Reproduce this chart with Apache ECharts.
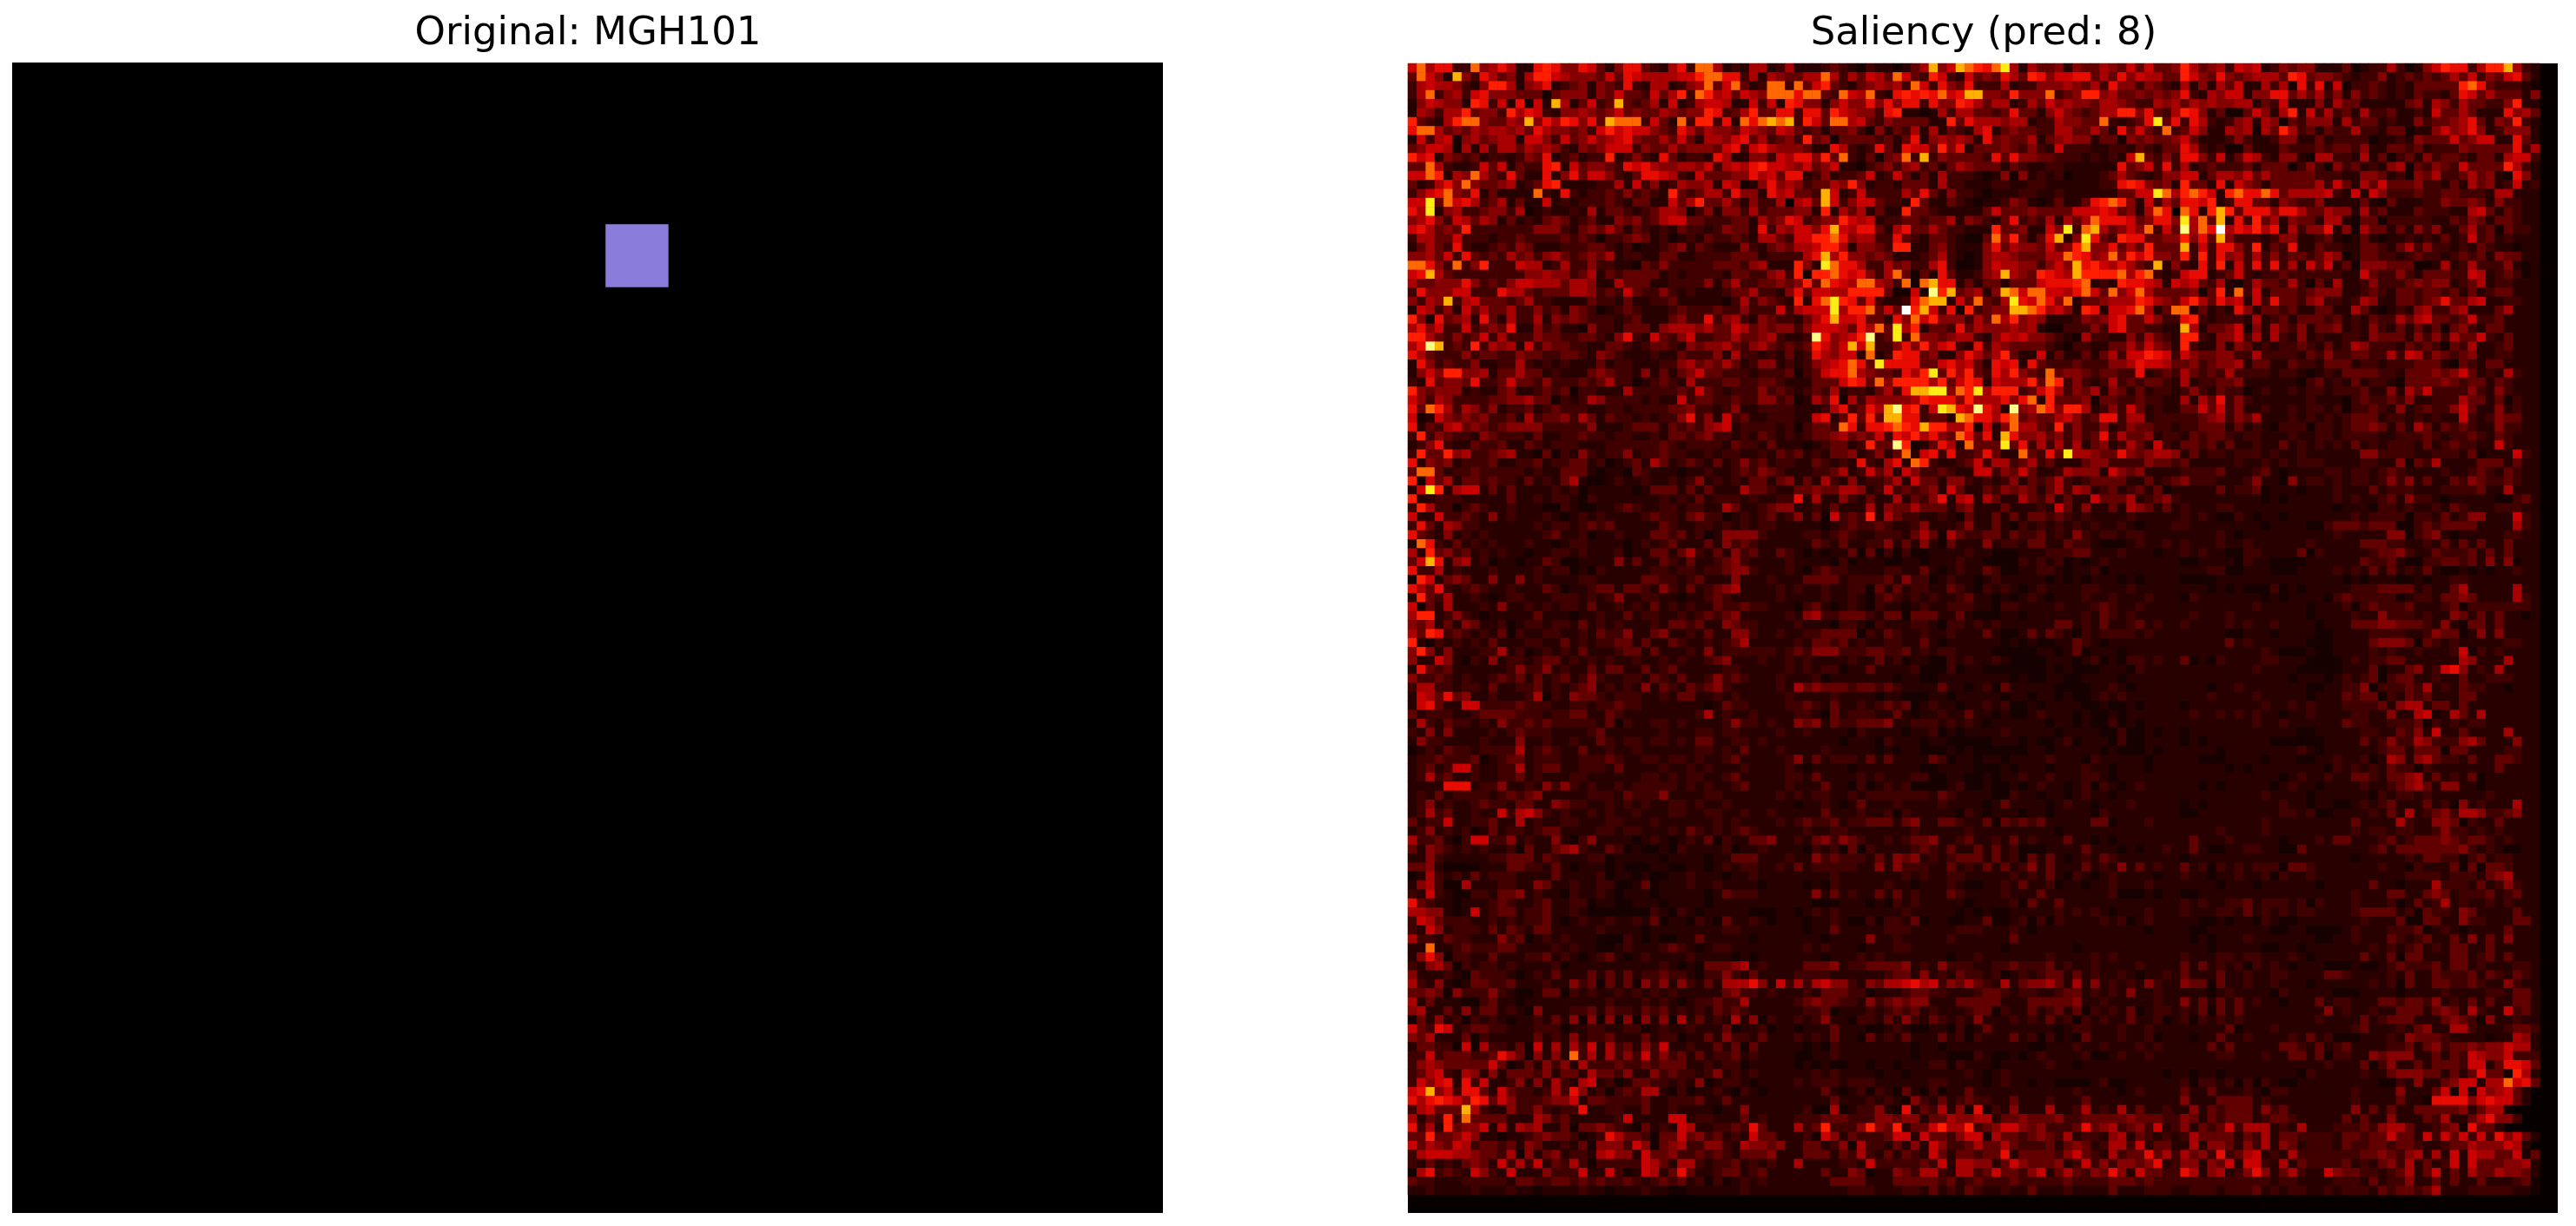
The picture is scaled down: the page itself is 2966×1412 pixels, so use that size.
<!DOCTYPE html>
<html><head><meta charset="utf-8">
<style>html,body{margin:0;padding:0;background:#fff}#c{width:2966px;height:1412px}</style>
<script src="https://cdn.jsdelivr.net/npm/echarts@6/dist/echarts.min.js"></script>
</head><body><div id="c"></div>
<script>
// Panel titles
const titles = ["Original: MGH101", "Saliency (pred: 8)"];
// Both images are 128 x 128 cells
const imageCells = 128;
// Left panel: image rectangles as [xStart, xEnd, yStart, yEnd, colour] in image cells
const originalRects = [[66, 73, 18, 25, "#8a7cda"]];
// Right panel: each character is one cell, read by eye, as an index into saliencyLevels
const saliencyLevels = [0.02,0.05,0.09,0.14,0.19,0.24,0.29,0.35,0.41,0.52,0.63,0.74,0.88,1];
const hotStops = ["#0a0000","#460000","#8c0000","#d10000","#ff1700","#ff5a00","#ff9d00","#ffe000","#ffff36","#ffff9b","#ffffff"];
const topLeft = [
"6957722945751178744763147732157299512155125312",
"3964 1a42753415886544436376555566899772515431".replace(/ /g,""),
"2565542148851457123414327215512459369312992",
"2592452674443330344414363326358298563654999",
"1465441872617061a513623a32351612566511626187",
"1542558344285762144543463433543448723583377",
"8321589943354a47587473a99926319288271979a9a2",
"7995343545545375443426867664327535443654365",
"1625604534551664263464567433536315546735234",
"3466505152553545421434666243353444367267544",
"8671432312212437123122812421731221751144265",
"3395211263613227816344327675445546256578665",
"6698154953273117147366421377652163334475637",
"3125749433451237811112251624125445165014745",
"2467943713111192172122324232183235527441756",
"66b396752351311612122232133116358335314225",
"75b1452234425012112151332123554024144252333",
"4574265354131213431231143423566332223315347",
"6753438222222244421343531321213221243317254",
"2553362221223222232320223431201213223215532",
"1353272112324311122233212011234132111421343",
"4453627323253424532343512211331122223331222",
"9974292482226551252242211032422222333245111",
"67a5322222222445442351323333121222213322452",
"5334447423246655535541153331122224135223343",
"2744466222755323335542326322421211123352214",
"4254a25633323522111132213112231111102524321",
"1652416353352242314320123211123222322422262",
"8407345173152251434322212311134227245214322",
"5746226234371142311042213331455545336534344",
"88532423625222433223321472163246223353345214",
"57ca232825451624332211332123321434453245323",
"7532224233224332233214321112113222415221213",
"1742322411225212121113122111224534353124412",
"1464884451335331211134322141313463322212223",
"2173443722363324222323522012321522233223321",
"8434441211341123230221115222223263212224232",
"6425422223344533021254222212116233223224423",
"7398525424122312322211221222233422124112222",
"6016434342231523342531322121224724162311222",
"7132563432344442222241112333132324561222212",
"2824322143222131122322122112133234221213212",
"1247211322311321222111222222321222213221311"];
const topMiddle = [
"111232102110135a46a9879b5153341433543636334",
"3559525365396328621634375387466773537465533",
"9368321345452962743722251224445435274424321",
"7993296592178787967aa44384449234884533434342",
"7441464474747727448753551253645443554322545",
"2773865442 7811015255332373314643235588473254".replace(/ /g,""),
"2863995632433331183755545512254433921237b3731",
"3231334204132515132157134332255335317363292213",
"2834033332313714545417343351345441330434334345",
"4311752127317663847133343242162221122132133125",
"7748392130349 2a243333273744332221 2 1 2 1 6 a 3 2 4 2 3 2".replace(/ /g,""),
"4634611023424523135433313211221 1 1 1 1 1 7 3 4 6 2 7 2 2 2".replace(/ /g,""),
"7124122361263131522210140412120111 2 3 5 3 2 1 2 4 4 2".replace(/ /g,""),
"423354841221333152211122112211111 1 2 2 7 8 7 4 3 4 1 8 4".replace(/ /g,""),
"332a6126222253731422101112 2 1 1 2 1 1 1 1 1 1 3 3 6 6 b 9 5 5 6 7 6".replace(/ /g,""),
"563a62466322 1 8 3 1 1 3 2 1 0 1 1 2 4 3 1 0 1 3 1 1 3 7 8 9 8 4 1 6 2 5 3".replace(/ /g,""),
"4418 153513 1 1 8 3 3 2 1 1 1 1 1 3 6 3 3 3 4 3 3 3 3 6 6 6 7 6 3 4 1 5 9 7".replace(/ /g,""),
"62 3 4 4 8 6 5 6 1 2 2 3 3 2 3 3 5 1 4 3 2 1 3 7 2 3 2 5 1 5 3 5 9 7 7 7 6 3 4 7 7 4".replace(/ /g,""),
"6 6 4 7 a 6 5 7 7 3 1 5 7 3 3 5 3 2 2 1 1 1 8 3 3 4 1 1 6 4 b 2 9 a 5 3 4 6 4 9 2 6 3".replace(/ /g,""),
"6 6 8 8 9 7 4 5 5 2 2 7 3 2 1 3 3 2 1 0 0 3 9 4 8 3 1 3 7 a 1 4 b 7 3 2 8 7 7 3 3 4 4".replace(/ /g,""),
"5 5 6 8 8 5 1 4 4 3 2 8 8 1 1 3 4 2 1 1 1 4 7 3 5 4 4 3 6 3 4 8 a 4 4 7 3 5 3 8 3 3 3".replace(/ /g,""),
"2 5 7 a 5 8 4 4 3 4 3 1 1 1 2 3 5 2 1 0 1 4 5 5 4 3 3 3 5 5 9 8 7 4 5 9 4 8 6 8 4 4 3".replace(/ /g,""),
"8 4 1 b 9 7 7 5 2 2 5 3 4 2 2 5 7 2 0 0 1 4 6 5 5 4 4 2 4 6 4 a 7 8 6 5 7 5 3 2 a 1 4".replace(/ /g,""),
"8 0 8 8 9 7 6 7 4 2 5 9 3 0 3 1 7 3 1 1 2 4 5 a 5 4 3 8 7 6 5 a 8 8 8 8 9 5 8 9 2 1 2".replace(/ /g,""),
"4 8 3 9 7 6 5 9 9 5 4 2 9 0 9 a 7 7 1 3 1 3 3 1 3 3 3 6 7 7 7 8 9 1 2 1 8 7 7 6 5 1 6".replace(/ /g,""),
"7 3 6 6 5 5 8 8 8 8 3 0 0 6 0 c 8 a 3 4 5 1 4 a 9 6 9 9 6 6 5 7 9 6 3 9 4 6 9 5 3 3 3".replace(/ /g,""),
"8 1 7 9 b 8 7 3 7 2 1 1 2 7 9 a a 1 6 3 9 3 2 5 b 7 6 9 7 4 9 1 3 3 4 5 5 5 8 7 5 4 3".replace(/ /g,""),
"5 6 6 6 b 5 8 8 9 3 6 3 d 8 a 6 2 7 0 8 2 3 4 4 a a 9 8 5 6 4 1 8 7 1 6 6 7 9 5 1 3 9".replace(/ /g,""),
"1 3 5 7 a 6 6 7 3 3 1 7 4 9 6 8 4 4 4 2 5 3 9 5 8 4 5 4 1 1 1 2 4 3 4 6 7 3 3 6 4 2 2".replace(/ /g,""),
"2 4 6 6 6 5 3 7 5 9 3 b 5 8 1 3 3 2 7 3 5 4 4 4 5 4 5 1 0 0 2 2 2 4 2 6 7 3 3 2 2 1 1".replace(/ /g,""),
"1 2 c 7 4 5 6 8 c 2 3 b 2 9 4 4 3 4 5 5 2 1 4 6 5 6 4 4 3 2 1 0 5 2 2 1 1 4 2 5 3 2 1".replace(/ /g,""),
"2 3 8 6 4 6 a 6 a 2 2 4 7 4 8 4 6 7 2 1 7 2 5 4 3 3 3 3 2 1 0 2 2 1 1 3 3 5 3 6 4 3 1".replace(/ /g,""),
"1 2 7 5 4 6 6 1 9 1 2 8 7 7 3 4 1 1 4 7 5 3 5 8 3 1 1 6 1 3 1 1 3 1 3 5 2 6 6 8 7 6 2".replace(/ /g,""),
"1 2 4 5 6 7 9 7 3 b 7 7 7 7 3 3 6 7 5 6 3 1 7 6 7 1 7 3 2 2 2 3 2 2 2 4 4 5 7 6 6 5 3".replace(/ /g,""),
"0 2 3 6 7 7 9 5 4 3 3 2 7 5 8 b 3 8 5 8 3 2 7 5 8 4 3 2 9 3 4 4 3 2 3 3 2 2 7 1 2 3 2".replace(/ /g,""),
"1 1 3 3 3 6 8 7 3 9 4 8 8 8 8 5 8 3 6 8 7 1 6 5 5 5 8 3 9 8 2 4 2 1 2 5 2 3 2 3 3 2 1".replace(/ /g,""),
"1 2 3 2 5 1 2 2 1 3 5 2 7 a a b b 4 9 8 b 5 8 8 8 2 3 6 8 5 2 4 3 5 1 4 3 1 3 1 2 2 1".replace(/ /g,""),
"0 1 5 3 7 0 5 2 5 4 4 4 4 5 8 7 7 7 4 8 5 5 5 7 4 7 9 1 8 3 3 3 4 0 3 3 2 2 3 2 2 1 1".replace(/ /g,""),
"1 1 1 2 5 7 2 3 7 5 a c 7 8 2 6 b a 7 6 c 7 5 1 c 4 5 9 8 4 8 8 5 1 2 4 2 6 3 1 2 1 1".replace(/ /g,""),
"1 1 6 7 1 3 8 3 8 3 a a 7 7 2 3 3 1 a 9 7 7 5 8 9 3 4 3 3 5 6 4 2 3 7 7 2 5 5 1 2 2 2".replace(/ /g,""),
"0 2 3 3 2 9 7 2 7 7 8 9 8 7 a 8 8 5 5 8 0 6 1 4 9 5 5 3 2 8 2 4 2 2 4 1 2 4 3 3 2 2 1".replace(/ /g,""),
"1 2 3 3 4 5 3 4 3 6 2 7 6 8 5 7 4 3 9 7 3 7 1 a 7 4 4 5 3 4 2 4 2 3 7 2 5 3 3 4 1 2 2".replace(/ /g,""),
"1 0 1 2 3 3 1 2 8 3 3 c 8 0 1 3 7 5 1 9 3 3 3 b 3 7 2 5 2 5 2 5 1 3 4 1 2 5 3 1 6 2 1".replace(/ /g,"")];
const topRight = [
"8 5 3 4 5 2 6 5 6 1 2 4 3 4 4 1 1 1 3 0 1 2 2 5 2 0 1 4 6 8 7 7 2 5 8 8 a 5 2 1 3".replace(/ /g,""),
"8 6 4 3 7 4 3 4 5 5 5 3 8 7 3 4 4 3 2 1 2 2 4 1 2 3 2 3 2 3 5 3 6 2 4 3 6 7 3 1 1".replace(/ /g,""),
"5 1 4 1 5 3 6 1 1 5 2 5 0 7 2 7 1 6 0 2 2 3 2 1 2 1 3 3 3 3 3 8 9 7 3 2 2 2 1 0 1".replace(/ /g,""),
"7 2 1 5 4 6 6 1 4 4 7 7 3 5 3 5 2 4 1 4 2 3 2 1 2 1 3 2 2 1 3 7 6 3 5 3 3 3 1 4 1".replace(/ /g,""),
"3 5 4 5 4 4 5 5 1 3 2 6 1 1 1 4 1 5 3 3 1 1 1 1 1 3 4 1 5 4 2 5 3 3 2 2 4 8 1 1 1".replace(/ /g,""),
"8 7 4 1 3 0 0 3 6 4 1 5 8 1 6 2 5 2 3 1 5 2 2 3 1 1 2 1 6 3 3 5 3 1 1 1 7 4 5 3 1".replace(/ /g,""),
"2 7 5 2 1 2 4 5 1 5 4 0 3 2 4 4 4 1 5 2 3 3 1 2 1 1 4 2 3 3 4 5 7 3 1 4 3 8 2 1 1".replace(/ /g,""),
"3 6 4 1 1 5 4 5 0 5 3 8 5 2 3 1 3 2 2 5 2 2 1 3 3 0 1 1 4 6 4 5 7 4 1 2 4 4 4 1 1".replace(/ /g,""),
"6 3 1 1 1 2 4 2 1 1 2 4 4 1 1 3 1 2 2 2 2 0 1 1 2 1 4 3 3 3 6 3 4 6 6 1 1 7 3 1 1".replace(/ /g,""),
"7 5 2 1 2 0 0 3 1 1 1 3 2 2 2 3 2 3 3 2 4 1 1 3 3 2 3 1 2 2 2 4 3 3 3 3 3 7 2 5 1".replace(/ /g,""),
"7 7 4 2 6 1 3 6 5 2 1 4 4 1 0 5 5 2 2 1 5 1 3 0 2 3 1 4 2 3 3 2 1 3 3 1 5 6 6 2 1".replace(/ /g,""),
"5 1 2 3 2 2 2 3 1 3 3 3 0 2 4 2 0 4 2 3 1 2 1 4 5 0 3 2 4 3 2 6 3 3 3 3 8 5 2 1 1".replace(/ /g,""),
"6 6 1 3 5 5 4 6 3 5 3 3 3 3 3 2 2 2 1 1 4 4 3 1 2 0 4 3 5 2 2 3 5 3 4 1 0 7 4 1 1".replace(/ /g,""),
"8 3 3 1 7 1 6 4 3 1 3 3 3 3 3 5 2 6 3 1 5 3 6 3 3 3 4 2 2 1 3 1 5 3 4 1 2 6 1 2 1".replace(/ /g,""),
"8 9 8 6 1 8 9 7 7 9 7 3 5 5 5 5 6 2 1 6 1 6 4 2 2 2 3 2 2 3 3 2 2 2 1 5 5 1 1 1 1".replace(/ /g,""),
"7 7 6 8 1 2 7 7 3 3 1 4 3 2 2 4 1 1 1 1 3 1 0 3 1 1 1 2 2 4 3 3 4 3 1 4 2 2 1 1 1".replace(/ /g,""),
"9 7 1 8 a 8 3 7 7 7 4 7 7 5 3 3 5 4 4 1 5 2 3 1 1 1 3 2 2 2 1 1 5 6 3 1 3 2 1 1 1".replace(/ /g,""),
"b 5 9 3 a 1 7 2 8 3 5 1 4 3 3 1 5 5 1 0 3 3 0 2 2 2 2 2 1 1 3 2 4 3 1 3 3 2 1 1 1".replace(/ /g,""),
"c 5 9 7 d 5 7 6 8 5 7 1 5 2 4 4 7 1 4 0 5 3 3 1 3 1 4 2 4 1 1 3 5 2 3 0 3 2 2 1 1".replace(/ /g,""),
"8 4 7 3 a 4 2 2 2 1 2 4 4 1 1 2 3 1 0 1 3 1 0 1 1 2 1 2 1 3 1 2 6 2 3 1 2 1 1 1 1".replace(/ /g,""),
"a 2 6 2 7 7 4 2 8 1 3 2 7 1 1 3 2 2 1 1 3 3 2 1 3 5 2 4 2 2 1 2 1 3 2 1 1 0 1 1 1".replace(/ /g,""),
"8 2 8 2 7 4 5 2 5 2 4 2 3 3 2 3 5 4 0 1 3 3 2 2 1 2 3 2 2 1 2 3 2 3 1 4 3 3 1 1 1".replace(/ /g,""),
"2 1 7 2 8 1 6 2 7 2 7 2 5 1 6 3 6 1 3 0 4 4 4 3 3 3 0 0 1 5 1 2 5 2 2 2 4 1 0 1 1".replace(/ /g,""),
"6 7 7 1 2 3 6 2 1 2 2 3 2 2 2 2 2 2 1 1 6 3 2 2 4 2 1 3 3 3 2 2 6 5 1 2 3 2 0 1 1".replace(/ /g,""),
"5 6 3 2 5 1 0 2 5 3 3 2 5 2 0 3 1 5 1 1 2 4 2 2 2 3 4 3 4 4 1 2 3 5 1 2 2 1 1 1 1".replace(/ /g,""),
"3 4 0 3 8 1 9 2 6 1 3 3 3 2 3 4 4 4 1 1 2 3 2 1 3 3 2 3 3 2 3 1 3 1 2 3 3 1 1 1 1".replace(/ /g,""),
"6 8 5 3 7 5 6 1 6 2 7 3 3 2 4 5 2 2 1 2 5 4 1 1 3 3 2 3 4 7 3 3 5 6 1 1 2 2 1 1 1".replace(/ /g,""),
"9 1 3 1 2 1 7 4 1 3 3 2 3 1 1 3 3 1 1 5 3 1 0 1 2 1 4 5 2 2 4 5 1 1 1 3 5 1 1 1 1".replace(/ /g,""),
"7 8 2 1 2 2 2 1 5 1 2 3 1 3 3 3 2 3 1 2 1 3 2 2 5 3 5 6 3 3 2 3 6 2 2 3 1 1 1 1 1".replace(/ /g,""),
"a 5 1 3 3 4 6 0 4 1 5 3 2 4 1 3 3 4 1 2 1 4 2 1 3 1 3 1 3 0 3 4 2 1 3 3 1 1 1 1 1".replace(/ /g,""),
"8 8 2 1 4 4 6 2 5 1 5 2 1 4 1 2 1 1 2 2 1 4 3 3 3 1 4 2 4 2 5 3 3 6 2 1 3 1 1 1 1".replace(/ /g,""),
"8 2 1 1 4 1 4 3 1 2 1 2 2 3 2 1 3 1 2 5 4 2 2 2 1 3 2 3 2 0 3 2 5 1 1 2 3 1 1 1 1".replace(/ /g,""),
"6 4 3 3 4 4 2 2 5 2 2 2 2 1 3 2 4 2 2 3 3 2 2 5 2 6 5 2 4 3 2 3 4 1 1 2 2 1 1 1 1".replace(/ /g,""),
"3 4 2 3 4 4 5 1 3 3 1 1 3 2 2 1 3 3 3 1 2 2 1 2 2 2 3 3 3 1 0 3 2 1 3 3 1 1 1 1 1".replace(/ /g,""),
"5 3 2 3 2 5 2 2 2 2 1 2 2 1 0 1 2 1 3 3 3 3 2 2 1 3 3 3 4 3 4 6 3 1 2 1 5 2 1 1 1".replace(/ /g,""),
"5 1 2 2 3 3 4 1 1 1 1 1 1 0 2 3 1 2 1 3 1 2 2 1 0 3 3 3 3 4 3 2 3 3 1 3 2 1 1 1 1".replace(/ /g,""),
"2 4 2 1 3 2 2 0 1 2 1 1 2 1 2 2 1 2 2 2 3 1 1 4 1 5 3 6 2 2 2 2 4 2 1 4 2 1 1 1 1".replace(/ /g,""),
"5 1 5 3 7 2 4 2 1 1 1 1 1 1 2 1 1 1 0 2 3 2 2 3 2 4 1 1 2 2 2 5 3 3 1 3 0 2 1 1 1".replace(/ /g,""),
"3 3 6 3 6 2 4 1 1 2 1 1 2 1 2 2 1 2 0 2 2 3 2 1 4 1 2 3 2 2 4 6 3 1 1 4 1 2 1 1 1".replace(/ /g,""),
"2 2 3 4 5 2 4 3 5 1 1 1 2 1 2 1 2 1 2 3 3 3 1 2 2 1 2 1 2 1 1 6 2 1 2 4 3 3 1 1 1".replace(/ /g,""),
"2 2 3 3 3 1 3 1 2 1 0 2 2 2 0 2 2 1 2 3 3 4 3 1 3 1 5 3 1 3 2 3 2 1 1 4 2 2 1 1 1".replace(/ /g,""),
"1 3 2 3 3 2 1 2 2 1 1 1 2 1 1 2 2 1 2 2 2 2 1 1 2 2 2 3 2 1 2 2 3 2 1 3 2 1 1 1 1".replace(/ /g,""),
"3 3 2 3 1 3 1 1 2 1 1 3 1 2 1 2 1 2 1 3 1 2 1 2 2 2 1 3 1 2 3 2 2 1 1 6 2 1 1 1 1".replace(/ /g,"")];
const middleLeft = [
"2833845223451103021421224122322112122112132312",
"7143412223112231223312012315312321312423122311",
"3993122322222121133310110321110112112324321111",
"8063513323221312135100121121121241212133134222",
"16b8156613131111212011111013331313111533211511",
"8112221111131121221021111111212131222121122211",
"2852202321121110021001123211221221153112344211",
"6116223214121112101212111123221342201212312111",
"2731542211111121221232311111321122121212211122",
"7321412121111112311201121113323120144442111211",
"1972131212111211012211110121231113142321111211",
"5183423121211011221211120113313521314231132111",
"36a7145120110113200111141311321311234211112211",
"7225121112111121220102111112212212234421112111",
"0861343114114121111221111133221231114111211111",
"7537212321121113201123313321421312345111121111",
"1832511210122111222121241122110112321111121111",
"6031511121411212122131121213121211322322111111",
"5881242101111131110112113122112123234111112111",
"4351314311201221221312121112133231143221111211",
"5387232121302112211213224113411213114421121111",
"8102121213111221131212233131132112123511111111",
"4841411122512012121311123313111214122222212111",
"4116410214122123312121211211212112341112112111",
"1732311111124224121131331131231111122111112111",
"4223212112323131231242112213213112423211121111",
"2552212213112231212341212141321323421111121111",
"1653734112111250214332122211213311212111112111",
"1673116622223222112212232211111110132211112111",
"3122211233332221223311321111111125121121111111",
"1521322121422323222221302112212111124221211111",
"2141411112123222111123111111211122122111121111",
"1422111121114112112113212212212133112212111211",
"0121322122225123211311211211111122121311121111",
"1223222301233122211222321122122121123111112111",
"1231266211225123311222131111211212111211112111",
"1252311211223121112211111122121221123111112111",
"1111777122411214242121121222221212112311112111",
"1213122221232341111122213222411112211111121111",
"1241211232213311432211212121122121121111111111",
"1252311211 6256 4212 1 1 2 1 2 1 1 2 1 1 1 2 2 1 1".replace(/ /g,"") + "2211211211",
"3122611223115121122111221112111111212111121111",
"1241212013122123311112212211121321212321111111"];
const middleMiddle = [
"3121334124139 167 2 7 2 2 3 7 3 1 1 9 3 2 7 3 b 5 5 4 3 3 7 4 3 4 5 5 4 4".replace(/ /g,""),
"11321217215719 8 2 1 1 2 3 6 2 5 5 2 3 5 2 3 1 1 1 3 4 4 2 2 2 2 4 3 3 2".replace(/ /g,""),
"1122351263516 4 2 2 3 2 1 1 6 6 2 4 3 6 3 1 1 2 5 4 4 4 1 6 4 3 4 1 1 1 1".replace(/ /g,""),
"1315214122351 6 3 3 1 4 4 2 1 2 1 2 4 1 3 2 3 5 2 1 2 3 3 3 3 1 1 3 1 2 3".replace(/ /g,""),
"33433 5 5 4 1 2 6 2 3 2 3 4 1 6 3 1 1 3 2 4 3 4 3 1 3 5 2 5 4 1 2 3 1 2 3 1 3 0 1 1".replace(/ /g,""),
"7 1 5 1 1 4 2 1 3 1 1 5 1 3 2 4 7 1 5 6 1 5 3 1 1 5 3 2 4 1 3 1 1 6 3 3 3 5 1 2 3 4 2 3".replace(/ /g,""),
"1 1 2 1 3 1 1 1 5 1 4 3 3 5 3 3 3 1 3 4 1 1 1 3 1 1 1 2 1 6 3 1 4 1 1 3 1 5 4 3 1 3 1 1".replace(/ /g,""),
"4 1 3 0 6 2 3 2 8 1 5 3 2 2 1 1 2 1 0 3 1 1 3 1 3 1 3 3 2 3 2 1 2 1 1 1 1 2 1 1 1 1 1 1".replace(/ /g,""),
"1 1 1 0 1 2 3 2 2 3 2 1 1 2 4 1 1 1 2 4 1 1 3 1 0 2 1 2 1 2 1 2 1 2 1 1 2 1 0 1 1 1 2 1".replace(/ /g,""),
"1 2 2 1 2 3 2 1 1 2 2 2 1 3 5 3 0 5 3 2 2 3 3 1 3 2 2 3 1 2 1 4 2 1 2 2 1 2 2 1 1 1 1 1".replace(/ /g,""),
"1 1 3 2 1 3 1 1 2 2 4 1 3 1 4 1 0 3 1 1 1 4 1 2 2 1 3 3 1 1 3 2 2 1 0 0 0 1 2 1 1 2 1 1".replace(/ /g,""),
"1 0 1 0 1 1 3 0 3 0 2 0 2 0 0 1 1 1 1 2 1 1 0 0 0 1 1 1 2 2 2 3 3 1 1 1 2 1 1 1 0 1 1 1".replace(/ /g,""),
"1 1 1 1 0 2 0 1 1 1 0 0 1 1 0 1 1 1 2 1 1 0 0 0 0 2 1 2 1 2 0 1 0 1 2 1 1 1 1 1 1 1 1 1".replace(/ /g,""),
"1 0 2 3 2 2 1 1 1 1 2 2 1 1 3 1 0 1 2 1 1 3 2 0 0 1 1 2 2 1 0 1 1 2 0 1 1 1 1 1 1 1 1 1".replace(/ /g,""),
"1 3 3 3 3 1 2 2 2 2 3 1 4 2 2 0 1 2 1 1 0 1 2 1 1 1 1 1 0 1 0 1 0 1 1 1 0 1 0 1 1 1 1 1".replace(/ /g,""),
"2 1 1 2 1 1 2 2 0 3 1 3 1 2 2 1 1 3 2 1 0 2 1 2 1 0 1 2 1 1 1 1 2 2 1 1 1 2 1 1 1 1 1 1".replace(/ /g,""),
"1 1 1 2 1 1 2 1 0 2 3 2 1 2 1 2 1 1 2 3 1 1 0 1 0 1 2 1 0 1 1 1 2 1 1 2 1 1 1 2 1 1 1 1".replace(/ /g,""),
"0 2 3 1 0 1 2 1 0 2 1 1 0 1 2 1 1 2 2 2 1 1 0 2 2 1 1 1 1 2 1 1 1 2 3 2 1 1 2 1 1 1 1 1".replace(/ /g,""),
"1 4 5 2 2 3 3 3 2 1 3 3 0 3 3 3 1 1 3 1 0 0 0 1 1 0 1 1 1 1 1 1 2 1 3 2 1 2 1 1 1 1 1 1".replace(/ /g,""),
"2 1 1 1 0 2 2 1 0 2 1 1 1 2 2 1 0 2 2 1 2 1 2 1 1 1 1 1 1 3 3 1 2 1 3 1 1 2 3 1 2 1 1 1".replace(/ /g,""),
"1 2 2 3 3 3 3 0 2 1 3 2 1 1 2 1 1 2 1 1 1 3 1 0 0 1 3 1 3 2 1 0 2 1 2 2 2 2 1 2 1 1 1 1".replace(/ /g,""),
"2 1 3 3 2 3 1 2 1 1 2 2 1 1 3 1 0 1 1 1 1 1 1 0 1 0 1 0 0 1 1 3 2 1 0 1 1 1 1 1 1 1 1 1".replace(/ /g,""),
"3 2 4 4 4 2 2 2 3 3 2 2 3 1 2 1 2 2 1 1 1 1 0 0 0 0 0 1 1 0 1 3 0 1 1 1 0 1 1 1 1 1 1 1".replace(/ /g,""),
"1 2 1 1 1 1 2 1 1 3 1 2 0 1 1 0 0 2 1 2 1 1 2 1 0 0 0 0 1 1 1 0 1 2 0 1 0 2 2 1 2 1 1 1".replace(/ /g,""),
"1 2 1 2 2 0 1 1 3 1 1 1 1 2 0 0 0 2 0 1 1 0 0 0 0 0 0 0 1 0 1 0 0 0 1 1 1 0 2 1 1 1 1 1".replace(/ /g,""),
"1 1 2 0 1 1 1 1 1 1 1 0 1 1 0 0 1 1 1 1 1 1 1 1 0 1 0 0 1 1 0 0 1 1 1 1 0 1 1 1 1 1 1 1".replace(/ /g,""),
"5 3 4 3 3 3 2 3 3 2 3 2 1 1 1 1 3 1 1 0 1 2 0 3 1 1 1 1 1 0 0 0 0 1 1 2 1 0 1 1 1 1 1 1".replace(/ /g,""),
"1 1 1 1 2 1 1 1 1 0 1 1 0 0 0 1 1 0 1 1 1 1 1 0 1 1 0 1 1 0 1 0 0 1 2 1 2 1 1 1 1 1 1 1".replace(/ /g,""),
"2 3 2 1 3 1 1 2 1 2 3 2 3 0 1 2 1 1 0 1 1 2 1 2 0 0 1 0 1 1 1 1 0 0 1 0 0 1 0 1 1 1 1 1".replace(/ /g,""),
"2 2 1 0 3 1 2 2 2 1 1 3 1 0 1 1 2 1 1 3 1 1 0 1 0 0 1 2 1 1 1 0 1 0 0 1 0 1 1 1 1 1 1 1".replace(/ /g,""),
"4 3 4 1 3 2 2 3 3 3 4 1 1 2 2 2 1 2 1 2 1 0 1 1 1 1 1 1 0 1 1 0 1 0 0 2 0 1 0 1 1 1 1 1".replace(/ /g,""),
"1 2 1 1 1 1 0 2 1 1 1 1 0 1 1 2 0 1 0 1 1 1 1 2 1 1 1 1 1 0 1 1 1 1 0 0 2 0 0 1 0 1 1 1".replace(/ /g,""),
"1 1 1 1 1 0 1 1 1 0 2 1 1 1 0 1 1 0 0 0 0 0 1 1 1 0 1 0 0 1 2 0 1 1 1 0 2 0 0 1 1 1 1 1".replace(/ /g,""),
"1 1 1 2 1 1 1 1 1 0 1 0 1 1 0 0 0 1 0 1 0 0 0 0 0 0 1 1 0 1 1 1 1 1 0 1 0 0 0 1 0 1 1 1".replace(/ /g,""),
"4 1 3 1 2 2 2 1 3 1 3 1 1 1 1 3 2 0 1 1 0 1 1 0 1 1 1 1 2 1 1 1 0 2 1 1 1 1 1 0 1 1 1 1".replace(/ /g,""),
"1 0 1 1 1 1 0 1 1 1 1 1 1 1 0 0 1 1 1 1 0 0 0 1 0 1 1 1 0 1 1 1 2 1 1 0 1 1 1 0 1 1 1 1".replace(/ /g,""),
"2 1 3 1 1 1 1 2 1 2 1 1 1 2 2 0 0 1 1 0 0 1 0 1 1 2 1 1 2 1 1 1 2 2 1 0 1 1 1 1 1 1 1 1".replace(/ /g,""),
"1 1 1 3 1 1 0 2 0 1 2 1 2 0 0 0 0 1 2 0 0 1 0 0 1 0 1 2 1 1 0 1 2 0 2 1 0 1 2 1 1 1 1 1".replace(/ /g,""),
"2 1 2 2 1 1 2 1 2 2 2 2 2 2 2 1 3 2 1 1 1 1 0 0 2 1 1 0 1 1 0 1 2 1 1 0 1 1 1 1 1 1 1 1".replace(/ /g,""),
"0 1 1 2 1 0 1 3 1 1 1 2 1 1 1 1 2 1 1 1 1 0 1 3 1 1 1 1 0 1 2 1 1 0 1 1 1 2 1 1 1 1 1 1".replace(/ /g,""),
"1 1 1 3 1 1 1 2 1 1 2 0 2 1 1 1 1 1 0 2 1 0 1 1 1 0 1 1 0 1 1 1 1 0 2 1 1 1 1 1 1 1 1 1".replace(/ /g,""),
"2 3 2 2 3 1 2 2 3 3 3 1 3 4 1 1 3 3 2 1 1 3 0 3 2 3 2 3 1 1 1 1 1 3 3 0 1 1 1 2 1 1 1 1".replace(/ /g,""),
"1 2 1 1 2 2 1 1 1 1 1 1 1 2 1 1 1 1 1 2 1 1 1 1 1 1 1 1 1 0 1 1 1 1 1 1 1 1 1 1 1 1 1 1".replace(/ /g,"")];
const middleRight = [
"1 3 1 2 2 1 2 2 2 1 2 1 1 2 1 1 1 1 1 1 4 4 2 2 2 2 1 1 2 2 2 1 3 0 1 1 1 6 2 1".replace(/ /g,""),
"3 1 1 1 1 1 2 1 1 2 1 2 1 2 2 2 1 1 1 1 2 2 1 1 4 0 3 2 5 1 1 1 1 3 3 3 1 3 1 1".replace(/ /g,""),
"2 2 2 2 3 1 1 1 2 3 1 0 1 1 1 1 2 2 1 2 2 1 2 3 2 1 1 1 1 2 1 1 2 3 2 1 3 2 1 1".replace(/ /g,""),
"4 2 2 2 1 1 1 2 4 1 1 0 4 1 2 2 1 2 1 2 2 1 2 4 2 4 1 3 1 1 3 2 4 3 2 2 3 2 1 1".replace(/ /g,""),
"1 1 1 1 3 1 2 2 3 0 1 1 1 0 1 1 1 2 1 1 1 3 1 2 2 2 1 1 1 2 2 2 2 3 1 1 5 1 1 1".replace(/ /g,""),
"1 1 1 1 1 1 1 1 1 0 1 0 1 1 1 1 1 2 1 2 1 1 2 3 1 4 2 2 1 0 1 1 1 1 1 0 0 2 3 1".replace(/ /g,""),
"2 1 1 1 2 2 1 1 1 1 1 1 1 1 1 1 1 0 1 1 1 0 2 2 1 2 1 1 2 1 3 2 1 1 1 2 2 2 1 1".replace(/ /g,""),
"2 1 2 1 0 0 2 1 0 1 1 0 1 1 1 1 1 1 1 2 1 2 2 2 2 0 2 2 1 3 1 2 4 4 1 1 1 6 2 1".replace(/ /g,""),
"2 1 1 1 1 1 1 1 1 0 1 1 1 1 0 0 2 3 3 3 2 3 3 3 0 0 2 3 2 3 3 3 3 1 1 1 1 5 2 1".replace(/ /g,""),
"1 1 1 1 2 1 0 1 1 1 1 1 1 1 1 1 1 2 1 1 1 1 1 4 4 0 2 3 4 1 0 1 1 1 1 1 2 2 1 1".replace(/ /g,""),
"2 1 1 1 2 1 1 2 1 1 1 1 1 1 2 1 1 1 1 1 3 3 3 2 2 1 1 2 1 3 1 3 1 3 1 1 3 1 1 1".replace(/ /g,""),
"2 1 2 1 1 0 0 2 2 1 1 1 1 3 0 2 1 1 1 1 1 2 3 3 4 2 1 1 3 2 2 2 3 1 3 1 3 1 1 1".replace(/ /g,""),
"0 0 1 1 1 1 0 2 1 1 0 0 0 0 1 1 1 1 1 1 3 2 2 3 1 0 0 2 2 3 3 2 3 1 4 1 4 0 1 1".replace(/ /g,""),
"1 1 1 2 2 0 0 1 1 1 0 0 0 1 1 1 1 2 1 2 1 3 1 3 1 2 1 3 1 0 0 1 0 1 0 1 1 2 1 1".replace(/ /g,""),
"0 0 0 0 1 1 1 1 1 1 1 1 1 1 1 1 1 1 0 1 0 1 1 1 0 0 1 0 1 1 2 2 1 1 1 1 1 1 1 1".replace(/ /g,""),
"1 1 1 0 1 0 1 0 0 0 2 0 1 0 1 1 1 1 1 2 2 2 3 3 3 3 1 2 1 1 3 5 1 1 1 1 1 5 1 1".replace(/ /g,""),
"0 2 1 1 1 1 1 1 1 0 1 0 1 1 1 1 0 2 3 2 2 2 2 2 0 1 2 2 1 3 3 4 3 1 1 1 1 5 2 1".replace(/ /g,""),
"1 1 1 1 1 1 1 1 2 1 1 1 1 1 0 1 1 1 2 0 2 3 2 2 2 3 1 1 1 2 3 0 2 2 2 2 2 2 2 1".replace(/ /g,""),
"1 2 1 1 1 2 1 1 1 1 1 1 1 1 0 1 1 1 1 2 1 1 4 2 2 2 1 2 1 1 4 3 1 3 1 3 1 1 0 1".replace(/ /g,""),
"2 1 1 1 1 2 1 2 1 1 2 1 1 1 1 0 1 1 1 3 3 3 4 4 3 3 3 2 1 4 1 0 3 3 1 3 1 1 1 1".replace(/ /g,""),
"1 1 1 1 1 0 0 1 1 1 0 1 1 1 1 0 0 1 1 1 1 2 2 2 2 1 1 2 4 3 3 0 1 4 1 4 1 1 1 1".replace(/ /g,""),
"1 1 1 1 1 3 1 2 1 1 1 1 1 1 0 0 0 1 1 1 1 3 4 4 4 3 0 3 2 1 2 1 1 1 1 1 2 2 1 1".replace(/ /g,""),
"1 1 1 1 1 1 1 1 1 2 1 0 0 0 1 0 0 1 1 1 1 2 1 2 1 1 2 1 1 1 2 6 0 2 1 2 1 1 1 1".replace(/ /g,""),
"3 0 1 0 2 1 1 1 1 2 2 1 1 1 0 0 0 0 1 2 1 2 2 3 3 1 1 1 1 1 1 5 4 1 1 1 5 1 1 1".replace(/ /g,""),
"1 1 1 1 1 1 1 1 2 1 1 1 1 0 0 0 0 0 1 1 1 3 0 1 1 3 4 1 2 6 7 4 1 2 1 5 1 1 1 1".replace(/ /g,""),
"1 1 1 1 1 1 1 1 1 1 1 1 0 1 1 1 0 1 2 1 2 3 0 2 3 3 1 1 2 1 1 3 1 1 2 2 2 1 1 1".replace(/ /g,""),
"1 1 1 0 1 1 2 1 1 1 1 1 1 1 0 0 1 1 2 2 4 0 2 2 2 3 2 5 1 2 1 3 2 2 1 1 0 1 1 1".replace(/ /g,""),
"1 1 1 2 1 1 1 1 2 1 1 1 1 1 0 1 1 1 3 2 3 3 0 2 1 3 2 3 1 1 1 3 3 1 1 1 1 1 1 1".replace(/ /g,""),
"0 1 1 1 1 1 1 1 1 2 1 1 2 1 2 1 1 1 2 2 2 2 3 1 4 5 5 1 3 3 1 3 1 1 1 1 1 1 1 1".replace(/ /g,""),
"1 2 1 1 2 1 2 1 2 1 1 0 1 1 2 1 1 1 1 2 2 1 1 4 1 1 5 6 0 1 5 3 1 5 1 1 1 1 1 1".replace(/ /g,""),
"1 1 1 1 1 1 1 1 2 1 1 2 1 1 1 1 1 1 3 2 2 1 1 2 2 2 3 0 2 1 2 1 2 2 1 1 1 1 1 1".replace(/ /g,""),
"0 1 1 1 1 1 1 1 1 1 1 1 1 0 0 1 1 1 1 1 2 2 1 1 3 2 4 1 6 1 1 3 1 1 1 1 5 1 1 1".replace(/ /g,""),
"0 1 0 1 1 1 1 1 1 1 0 0 0 0 0 0 1 1 1 1 3 1 2 4 2 2 5 4 2 2 2 4 5 3 1 1 1 4 1 1".replace(/ /g,""),
"1 1 1 1 0 1 1 1 1 1 1 1 1 2 1 0 1 1 1 1 1 1 2 3 3 1 3 3 3 0 3 3 1 1 1 1 2 2 1 1".replace(/ /g,""),
"1 1 0 0 0 1 1 1 1 0 1 1 1 0 0 1 1 2 1 1 2 0 1 5 4 1 4 5 3 2 2 1 3 1 1 3 3 2 1 1".replace(/ /g,""),
"1 1 1 1 1 0 1 0 1 1 1 1 1 1 1 1 0 2 1 2 1 2 1 3 2 2 0 2 1 1 1 1 1 1 1 3 1 1 1 1".replace(/ /g,""),
"1 1 1 1 1 1 1 1 1 1 1 0 1 2 1 1 2 1 1 3 3 2 1 3 3 4 5 1 3 1 2 1 3 0 1 1 1 1 1 1".replace(/ /g,""),
"1 1 0 1 0 1 1 1 1 1 0 1 2 1 1 0 1 1 1 1 2 1 1 2 3 4 5 3 1 4 4 1 1 0 1 1 1 1 1 1".replace(/ /g,""),
"1 1 1 1 1 1 1 1 1 2 1 1 1 1 0 1 1 1 1 1 1 0 2 1 2 2 1 2 1 1 1 1 1 1 2 1 1 1 1 1".replace(/ /g,""),
"0 1 0 1 1 1 1 1 1 1 1 2 1 1 0 1 1 0 0 1 2 1 2 3 1 1 1 3 1 2 0 4 1 2 1 1 1 5 1 1".replace(/ /g,""),
"0 0 1 1 1 1 1 1 1 1 1 2 2 1 2 0 0 1 1 1 1 2 1 3 1 5 1 2 3 4 2 5 5 4 2 2 3 4 1 1".replace(/ /g,""),
"1 1 1 1 1 1 1 1 1 2 1 1 1 1 1 1 1 1 1 3 1 1 1 1 5 2 1 1 4 4 3 0 2 1 1 3 1 1 1 1".replace(/ /g,""),
"1 1 1 1 2 1 1 1 1 2 1 1 1 1 1 1 1 1 1 2 1 2 2 1 2 2 1 1 2 4 2 2 1 2 1 2 1 1 1 1".replace(/ /g,"")];
const bottomLeft = [
"5223102662241211410241111 0 1 2 1 0 1 2 1 3 0 2 1 1 3 3 4 1 1 1 0 1 1".replace(/ /g,""),
"3143212121120311 3 4 5 2 1 1 3 2 0 1 0 0 1 0 2 1 1 1 1 2 0 1 1 2 1 1 1 1".replace(/ /g,""),
"1142111112 2 3 3 3 1 3 2 1 1 1 2 2 0 1 1 1 1 1 0 1 1 1 1 0 1 1 3 3 3 1 1 1 2".replace(/ /g,""),
"3 3 4 1 0 0 0 0 1 1 1 3 3 2 2 1 3 1 0 1 1 1 0 1 0 0 0 1 1 0 0 1 1 0 1 2 1 2 2 1 1 2 1 1".replace(/ /g,""),
"0 1 5 2 1 2 1 3 1 2 2 2 1 1 1 1 3 1 1 1 1 2 0 1 1 0 1 0 0 1 1 2 1 1 1 0 1 1 2 1 1 1 1 1".replace(/ /g,""),
"1 4 5 2 0 0 5 1 1 1 2 2 1 1 4 3 1 1 2 1 1 2 2 0 0 1 3 0 1 1 1 2 1 1 2 1 1 1 1 0 1 1 1 1".replace(/ /g,""),
"2 1 6 2 1 0 0 2 2 1 3 3 4 1 2 1 1 0 2 1 1 2 1 0 1 1 1 0 1 1 1 1 1 0 1 3 2 2 2 1 1 1 1 1".replace(/ /g,""),
"7 3 2 1 1 0 1 1 1 2 3 2 1 1 2 3 1 1 2 2 0 1 1 0 0 1 1 1 0 1 1 1 1 0 1 1 1 1 1 1 1 1 1 1".replace(/ /g,""),
"5 5 4 4 1 0 1 6 1 2 3 3 1 2 2 3 1 1 2 1 0 0 0 0 0 0 0 2 1 0 2 1 0 1 1 1 1 1 0 0 0 1 1 1".replace(/ /g,""),
"2 6 5 3 2 2 2 1 1 2 1 2 1 2 2 3 1 0 1 2 1 1 2 1 1 2 1 3 0 1 1 0 2 1 0 3 1 1 2 1 0 1 1 1".replace(/ /g,""),
"2 1 6 4 1 2 2 2 1 3 1 3 2 1 3 3 1 1 1 1 1 2 1 1 1 1 0 1 1 1 1 1 1 1 1 2 2 1 1 1 1 1 1 1".replace(/ /g,""),
"5 2 2 1 3 2 2 1 1 1 4 2 3 0 1 2 1 2 1 1 1 0 0 0 2 1 0 1 0 0 1 1 3 1 1 1 1 1 0 1 1 1 1 1".replace(/ /g,""),
"1 1 9 1 1 2 3 2 2 2 3 3 1 1 1 1 2 1 2 1 1 0 0 1 2 1 1 1 2 3 2 1 0 1 2 2 1 1 1 1 1 1 1 1".replace(/ /g,""),
"1 4 7 4 0 2 2 1 1 3 1 1 1 2 2 3 1 2 1 0 1 2 3 1 0 1 2 1 1 1 1 2 1 1 1 1 0 1 0 1 1 1 1 1".replace(/ /g,""),
"2 1 4 5 3 0 2 1 2 2 1 2 1 1 1 1 2 0 1 1 1 1 1 1 1 1 1 1 2 1 0 1 0 3 3 3 4 5 1 2 1 1 1 1".replace(/ /g,""),
"4 1 1 1 2 1 0 3 2 2 2 1 0 1 2 1 3 1 1 1 3 1 3 1 3 1 2 2 3 2 2 1 0 2 2 4 2 1 3 1 1 1 1 1".replace(/ /g,""),
"5 2 1 4 1 0 1 3 3 2 2 3 1 1 1 2 1 1 4 2 3 0 3 1 3 0 4 2 4 1 4 2 1 3 1 5 5 5 7 4 1 6 2 1".replace(/ /g,""),
"3 3 4 3 0 4 2 2 2 4 2 1 0 0 1 3 3 0 2 1 2 1 1 2 1 2 1 2 1 2 1 1 1 1 1 3 4 2 2 1 2 1 1 1".replace(/ /g,""),
"5 1 3 1 1 1 0 0 2 3 1 1 0 1 1 1 1 1 1 1 1 1 2 1 1 1 2 1 2 1 0 1 2 2 3 2 2 5 1 1 1 1 1 1".replace(/ /g,""),
"4 5 1 1 3 1 4 1 3 3 1 2 1 0 4 1 1 1 2 2 3 1 3 2 2 1 3 2 3 1 2 1 2 1 3 2 3 2 1 1 1 1 1 1".replace(/ /g,""),
"0 3 1 4 1 2 0 2 1 2 1 0 1 1 2 1 3 1 4 0 4 0 4 0 4 0 4 1 4 0 5 1 3 1 2 1 5 1 4 0 2 1 1 1".replace(/ /g,""),
"6 3 2 7 6 1 2 3 3 2 2 1 1 1 2 2 2 0 1 1 2 2 1 1 2 2 0 1 2 1 1 2 1 1 1 3 0 1 1 2 0 1 1 1".replace(/ /g,""),
"4 3 5 1 1 1 3 0 2 1 1 1 1 1 3 1 2 1 4 1 2 2 3 1 1 1 3 1 2 2 0 1 1 3 1 4 2 2 1 3 1 1 1 1".replace(/ /g,""),
"1 3 3 2 2 0 6 0 5 2 2 1 3 0 6 1 5 1 5 2 6 1 5 2 3 1 4 2 6 1 1 2 1 1 3 1 3 0 3 1 1 1 1 1".replace(/ /g,""),
"2 2 6 2 3 3 3 2 2 3 7 5 3 0 4 1 4 1 9 2 5 1 5 2 4 2 6 2 4 2 3 1 3 1 2 2 3 1 2 1 1 1 1 1".replace(/ /g,""),
"2 4 5 4 3 3 3 3 3 6 3 0 1 3 1 4 2 4 1 5 2 2 2 3 2 2 3 2 3 3 3 1 1 2 1 2 2 0 1 1 1 1 1 1".replace(/ /g,""),
"2 3 5 6 2 1 5 4 1 4 1 3 3 3 2 4 1 3 3 1 5 3 3 2 4 1 1 4 2 3 2 2 1 2 4 1 2 1 2 1 1 1 1 1".replace(/ /g,""),
"2 6 4 6 7 1 7 2 6 1 1 2 4 1 4 1 5 2 1 5 6 1 2 0 1 3 3 2 2 1 2 1 4 0 1 2 2 1 0 1 1 1 1 1".replace(/ /g,""),
"6 7 a 4 6 2 7 7 3 1 6 3 2 2 1 2 5 2 7 4 1 2 0 2 3 2 5 5 1 0 2 0 1 1 2 1 0 2 1 0 1 1 1 1".replace(/ /g,""),
"7 5 7 8 7 6 4 8 7 3 6 4 2 2 2 3 4 4 6 1 3 3 2 2 2 2 3 1 1 2 2 2 3 1 1 3 1 1 1 1 1 1 1 1".replace(/ /g,""),
"2 5 6 3 3 3 a 5 2 1 1 4 2 2 4 2 1 2 2 7 1 1 2 2 1 1 3 1 1 2 1 1 1 1 0 1 1 4 1 1 1 1 1 1".replace(/ /g,""),
"5 1 3 2 8 2 9 3 3 3 3 1 1 1 5 4 2 3 1 1 1 1 1 2 6 1 1 1 1 6 6 1 2 2 1 1 1 3 1 2 1 1 1 1".replace(/ /g,""),
"7 2 5 1 8 3 4 4 6 1 5 1 5 4 5 1 1 3 0 3 3 4 3 2 1 0 3 1 2 1 6 5 1 1 2 2 3 2 7 3 1 1 1 1".replace(/ /g,""),
"3 3 8 3 3 4 6 4 1 1 0 1 1 2 3 4 3 3 2 0 1 2 7 5 3 3 2 0 3 3 6 3 4 2 3 1 2 1 6 3 3 1 1 1".replace(/ /g,""),
"6 3 5 4 3 6 5 2 3 3 2 3 1 4 3 1 1 2 1 3 0 4 4 4 2 6 4 0 3 4 5 2 2 4 4 2 1 5 4 4 3 4 1 1".replace(/ /g,""),
"2 5 6 6 6 5 5 4 3 3 2 5 0 4 1 3 4 1 2 2 1 5 6 4 4 1 6 3 3 4 2 2 3 2 3 2 1 3 3 3 4 1 1 1".replace(/ /g,""),
"2 1 3 1 2 1 3 4 3 1 6 2 5 2 6 1 3 2 5 2 0 2 2 2 2 2 6 5 3 1 5 5 2 1 2 2 3 1 2 1 2 1 1 1".replace(/ /g,""),
"0 5 7 2 3 2 1 6 4 2 1 6 1 1 1 4 2 2 2 6 1 1 6 2 0 1 6 5 1 3 7 3 1 1 2 3 3 1 2 3 1 1 1 1".replace(/ /g,""),
"3 2 2 1 1 1 2 2 2 2 2 1 3 3 2 2 3 3 2 3 2 3 2 2 3 2 1 2 3 2 3 1 2 0 2 0 1 2 1 2 1 1 1 1".replace(/ /g,""),
"1 1 2 1 1 1 1 2 1 1 1 2 1 1 0 1 1 1 1 2 1 1 0 1 1 1 2 1 1 0 0 1 1 1 1 1 1 2 1 1 1 1 1 1".replace(/ /g,"")];
const bottomMiddle = [
"2 1 3 4 2 4 3 2 1 1 2 1 2 3 3 4 1 1 2 3 1 1 2 1 3 1 2 1 1 1 3 1 1 0 1 0 1 1 1 1 1 1 1 1".replace(/ /g,""),
"1 0 2 1 2 0 3 0 2 1 1 1 1 2 3 2 1 3 1 1 3 1 3 1 2 0 0 0 1 1 1 1 3 1 1 1 0 1 0 1 1 2 1 1".replace(/ /g,""),
"1 1 4 2 3 2 2 2 1 3 1 4 3 4 1 2 1 2 3 3 3 1 3 1 2 0 3 1 3 1 0 1 2 1 3 2 1 1 1 1 1 1 1 1".replace(/ /g,""),
"3 1 2 2 2 2 2 1 1 4 1 4 2 2 2 1 1 3 1 2 1 3 1 3 1 2 4 1 3 1 1 1 3 1 2 1 4 1 3 1 2 1 1 1".replace(/ /g,""),
"1 1 1 1 2 1 1 1 1 1 1 1 2 1 2 1 1 2 2 1 1 1 1 1 2 1 2 1 3 1 0 2 1 0 1 2 1 1 1 1 0 1 1 1".replace(/ /g,""),
"1 0 1 0 2 1 1 1 1 1 2 1 1 0 1 1 1 2 1 0 0 1 1 2 1 3 1 1 2 0 1 1 0 1 1 2 1 1 1 2 1 1 1 1".replace(/ /g,""),
"1 1 4 1 3 1 2 1 1 3 1 3 1 2 1 1 1 3 2 1 1 1 1 2 1 1 1 3 1 1 1 1 1 1 1 2 0 0 0 1 0 1 1 1".replace(/ /g,""),
"1 1 0 0 0 1 1 1 0 1 0 2 1 2 1 1 1 1 1 0 1 1 1 1 2 0 3 1 1 3 1 1 1 1 1 1 1 1 1 1 1 1 1 1".replace(/ /g,""),
"0 1 2 1 2 1 1 1 1 1 1 1 2 1 1 1 1 1 0 1 0 1 0 0 1 1 1 1 1 2 1 2 1 2 1 0 1 1 1 2 1 1 1 1".replace(/ /g,""),
"1 0 1 1 2 1 0 0 2 0 2 2 1 3 0 1 1 0 0 1 1 3 0 0 1 2 0 2 0 2 1 1 1 1 2 1 2 0 1 2 1 1 1 1".replace(/ /g,""),
"1 0 1 1 3 1 1 1 1 1 2 2 2 1 1 1 1 1 2 2 2 1 1 1 2 1 0 1 1 1 1 1 1 1 1 1 1 1 1 0 1 1 1 1".replace(/ /g,""),
"1 1 1 0 1 1 1 1 4 1 1 2 1 1 1 1 1 2 1 1 1 1 1 1 3 1 1 1 1 1 1 1 1 1 1 1 1 1 1 1 1 1 1 1".replace(/ /g,""),
"1 2 1 2 1 1 1 0 1 1 1 2 2 1 1 1 1 1 1 1 1 1 1 0 1 1 1 1 1 1 1 0 1 1 1 1 1 1 1 1 1 1 1 1".replace(/ /g,""),
"1 1 1 0 1 1 1 2 1 2 1 1 1 1 1 1 1 0 1 1 2 1 1 1 1 1 1 1 2 1 1 1 1 2 1 2 1 1 1 1 1 1 1 1".replace(/ /g,""),
"1 3 3 3 4 1 2 2 3 3 3 3 4 1 2 1 4 2 2 2 1 1 2 2 3 2 2 2 3 1 2 1 1 2 1 1 1 1 2 1 1 1 1 1".replace(/ /g,""),
"2 2 2 2 1 1 1 1 1 1 2 3 3 1 4 1 2 1 3 2 2 1 2 0 1 2 1 2 3 3 1 3 1 2 1 1 2 1 0 1 1 2 1 1".replace(/ /g,""),
"5 2 5 6 4 4 2 1 4 3 5 5 6 7 5 6 2 4 3 5 3 2 1 5 1 3 4 4 5 3 1 5 1 4 1 2 1 2 1 4 2 1 1 1".replace(/ /g,""),
"1 2 1 3 3 3 2 2 0 1 1 1 2 3 3 2 2 1 1 1 2 3 3 2 1 2 2 1 1 2 3 3 1 2 1 2 1 4 1 1 2 1 1 1".replace(/ /g,""),
"2 3 4 3 3 2 2 1 4 2 3 4 3 4 4 1 1 1 3 3 3 3 3 1 1 1 3 3 3 3 3 4 1 1 2 1 1 1 1 1 2 1 1 1".replace(/ /g,""),
"1 2 2 3 0 1 1 1 2 1 2 3 2 3 1 2 1 1 1 2 3 3 0 2 1 1 3 1 2 3 1 3 0 2 1 2 1 3 0 1 2 2 1 1".replace(/ /g,""),
"2 1 2 4 1 1 0 2 2 1 3 1 4 2 1 3 2 1 2 1 4 1 1 1 2 1 2 1 3 1 2 0 2 1 2 1 1 3 1 1 2 0 1 1".replace(/ /g,""),
"0 1 1 1 3 1 1 1 0 0 1 2 1 0 0 1 1 0 2 0 1 3 1 1 1 1 1 1 1 0 1 2 2 1 1 1 2 1 1 2 1 1 1 1".replace(/ /g,""),
"2 1 2 1 3 1 1 0 3 1 2 1 3 1 1 1 3 1 2 0 2 1 1 1 3 1 2 0 2 0 1 0 3 1 1 1 2 1 1 2 0 1 1 1".replace(/ /g,""),
"1 0 1 0 2 1 1 1 1 1 1 1 1 0 1 1 0 1 1 1 1 1 1 1 1 1 0 0 1 1 1 2 1 1 2 1 1 1 2 1 2 1 1 1".replace(/ /g,""),
"0 0 1 1 2 1 1 1 1 1 1 1 1 0 1 1 1 0 0 0 2 1 0 0 1 0 1 2 1 1 1 1 2 0 0 1 2 1 1 2 1 1 1 1".replace(/ /g,""),
"0 1 0 1 0 0 1 1 0 1 1 0 1 1 1 2 2 0 2 1 1 1 0 1 1 1 1 1 2 1 1 0 1 1 1 1 1 1 1 1 1 1 1 1".replace(/ /g,""),
"1 1 2 1 2 1 1 1 1 0 1 1 0 1 1 1 1 1 1 2 1 0 1 2 1 1 1 1 1 1 1 1 1 1 1 1 1 1 1 1 1 0 1 1".replace(/ /g,""),
"2 1 2 2 2 1 2 2 2 1 1 1 1 1 1 2 2 1 1 1 1 0 1 2 1 1 0 1 1 0 0 0 0 1 2 0 0 1 1 1 1 1 1 1".replace(/ /g,""),
"1 1 1 3 1 0 1 2 0 2 1 0 3 1 0 2 0 1 1 3 1 1 1 1 1 1 1 1 1 1 1 2 1 1 1 1 0 1 2 1 1 1 1 1".replace(/ /g,""),
"1 1 1 1 3 1 1 1 2 1 2 1 0 4 2 1 3 1 2 3 2 2 1 1 3 1 1 1 2 1 1 1 3 1 1 1 1 1 1 1 1 1 1 1".replace(/ /g,""),
"1 2 0 0 5 0 1 2 2 4 1 0 7 1 3 2 5 1 4 0 7 0 2 1 4 1 1 1 5 1 1 2 5 1 2 1 5 1 3 1 1 2 1 1".replace(/ /g,""),
"2 2 2 3 3 3 2 2 2 4 4 3 4 4 1 3 3 5 4 4 5 5 1 3 3 4 3 3 3 4 2 2 3 3 3 3 3 4 3 3 3 2 2 2".replace(/ /g,""),
"5 2 3 8 2 2 2 4 8 4 3 8 1 3 3 6 8 5 5 8 2 3 4 6 6 4 3 4 2 2 2 3 7 3 4 5 2 3 4 2 6 1 2 2".replace(/ /g,""),
"1 2 0 6 4 1 3 2 2 2 3 6 6 1 6 3 3 2 4 6 6 0 5 3 3 2 3 4 3 2 5 1 2 2 1 4 5 1 3 2 1 2 1 1".replace(/ /g,""),
"1 3 3 1 2 4 0 5 2 2 1 3 1 4 1 6 4 2 2 3 5 3 3 5 3 2 2 2 3 1 3 4 3 1 2 5 5 2 6 1 3 3 1 1".replace(/ /g,""),
"1 3 3 3 1 3 2 5 2 1 3 1 3 2 1 6 3 1 3 3 2 3 3 7 1 3 3 3 3 2 4 6 3 2 1 5 2 3 3 7 3 5 2 1".replace(/ /g,""),
"5 1 1 1 1 2 2 1 6 2 2 2 2 2 3 2 6 1 5 5 4 4 1 3 6 4 3 3 3 4 1 2 6 2 4 2 4 4 3 4 7 1 2 1".replace(/ /g,""),
"1 1 1 3 1 1 4 3 0 1 1 4 3 2 5 5 2 1 5 5 2 3 6 3 3 2 4 6 1 3 5 3 2 4 3 7 4 1 6 3 3 2 2 2".replace(/ /g,""),
"1 1 1 1 3 3 3 3 1 1 1 3 3 3 3 3 2 3 1 2 3 2 2 2 3 2 2 2 2 2 3 2 2 2 2 3 3 3 2 3 2 2 2 2".replace(/ /g,""),
"1 1 1 1 1 1 2 2 2 1 1 1 2 2 1 3 1 2 1 3 2 1 1 2 1 1 3 1 1 1 2 1 1 1 1 3 1 1 1 2 2 2 1 1".replace(/ /g,"")];
const bottomRight = [
"1 3 1 1 1 2 1 1 1 1 1 0 1 1 1 2 1 3 3 1 1 1 2 3 1 2 3 3 3 4 3 2 3 3 2 1 2 1 1 1".replace(/ /g,""),
"1 3 1 0 0 1 1 2 2 1 1 0 0 3 1 1 1 1 1 1 1 2 3 1 3 3 3 3 3 3 3 4 2 1 2 1 0 0 1 1".replace(/ /g,""),
"0 1 1 1 1 1 1 1 1 1 1 1 1 1 1 1 1 1 1 0 1 1 1 1 1 2 1 3 3 2 2 0 2 3 1 2 2 1 1 1".replace(/ /g,""),
"3 1 2 0 2 1 2 1 2 2 2 0 3 3 2 1 1 1 1 1 1 1 2 1 1 0 2 1 1 1 3 0 3 0 3 3 2 1 1 1".replace(/ /g,""),
"2 1 1 0 1 1 2 1 1 2 0 2 1 1 2 1 1 1 1 1 1 1 1 1 1 2 2 2 2 1 2 2 2 1 3 4 5 1 1 1".replace(/ /g,""),
"1 1 1 1 0 1 1 1 0 1 1 1 1 1 1 0 1 1 1 1 1 3 1 1 0 1 1 1 5 2 2 2 1 3 1 2 4 2 1 1".replace(/ /g,""),
"0 0 1 1 1 1 1 1 1 1 1 1 1 1 1 1 1 1 1 2 1 1 1 3 3 1 1 3 4 3 1 2 2 2 3 1 2 3 1 1".replace(/ /g,""),
"2 1 2 1 1 2 2 3 1 2 2 2 1 2 0 2 1 1 1 2 1 1 1 2 0 1 3 1 2 5 1 2 1 1 2 1 2 1 1 1".replace(/ /g,""),
"2 1 1 1 2 2 1 3 1 2 1 2 1 2 2 1 1 1 1 2 3 3 3 3 1 2 0 3 2 2 1 4 3 1 1 1 1 3 1 1".replace(/ /g,""),
"1 1 0 0 1 0 1 1 0 2 1 0 0 1 1 1 1 1 1 1 2 1 1 1 3 0 0 3 3 1 1 4 2 2 1 1 1 3 3 1".replace(/ /g,""),
"1 0 0 1 1 1 1 1 1 1 0 0 1 1 0 0 0 0 1 2 1 1 1 2 2 2 3 0 1 2 1 0 1 1 1 1 3 1 1 1".replace(/ /g,""),
"1 0 1 0 1 1 1 2 1 1 1 1 1 1 1 0 0 1 1 2 1 1 1 3 2 1 2 3 1 1 3 1 4 1 3 1 4 1 1 1".replace(/ /g,""),
"1 1 1 0 1 1 1 1 1 0 0 1 1 0 1 1 1 1 1 1 1 2 1 2 1 2 3 1 2 1 3 3 1 1 3 1 1 1 1 1".replace(/ /g,""),
"2 1 1 1 2 2 1 2 2 1 1 1 2 1 0 1 1 1 1 1 3 1 1 3 0 3 3 1 1 1 3 3 1 2 3 1 3 1 1 1".replace(/ /g,""),
"3 1 3 1 2 1 2 0 2 1 2 1 0 1 1 1 0 0 0 1 0 0 1 2 3 2 2 2 3 1 3 3 1 2 1 1 1 2 2 1".replace(/ /g,""),
"3 1 1 1 3 1 1 2 1 1 2 2 1 1 1 1 3 3 2 1 1 1 1 2 1 3 1 1 3 2 2 2 3 1 3 2 1 3 2 1".replace(/ /g,""),
"4 3 3 0 3 1 1 2 1 1 2 1 1 1 0 1 1 1 1 1 1 2 1 2 0 3 1 1 3 3 2 2 3 2 1 1 4 2 1 1".replace(/ /g,""),
"1 1 1 0 1 2 1 1 1 1 0 2 1 1 1 1 1 0 0 0 1 1 1 1 0 1 1 1 1 2 1 1 1 1 2 2 1 3 3 1".replace(/ /g,""),
"4 1 3 1 3 1 3 1 2 1 1 0 1 1 1 3 1 2 2 1 1 1 3 3 2 3 3 2 4 1 2 1 3 1 3 1 1 3 3 1".replace(/ /g,""),
"2 1 3 0 3 1 3 1 1 1 1 1 1 1 1 1 4 1 2 1 1 2 1 1 3 3 3 1 3 4 3 1 5 2 1 1 6 2 3 1".replace(/ /g,""),
"2 0 2 1 2 1 2 1 1 1 1 1 1 1 1 2 1 1 1 1 3 1 2 3 3 3 1 1 1 3 4 3 2 0 4 1 1 2 1 1".replace(/ /g,""),
"1 1 1 1 1 3 0 1 1 1 2 1 1 1 1 1 1 1 1 2 3 1 1 1 2 1 3 4 1 1 5 5 2 1 1 1 2 3 3 2".replace(/ /g,""),
"1 0 1 1 3 1 1 2 1 1 1 1 2 1 3 1 2 0 0 0 1 1 1 2 1 4 3 3 3 2 1 1 1 1 0 1 1 5 4 1".replace(/ /g,""),
"1 1 1 3 1 3 1 1 1 1 1 3 3 2 1 3 1 2 3 1 1 1 1 2 2 3 1 3 4 2 3 3 4 3 4 4 6 5 5 1".replace(/ /g,""),
"1 1 1 1 2 2 1 1 1 2 1 1 3 3 1 3 0 2 2 1 1 4 3 4 4 4 1 1 3 1 3 2 6 5 4 4 6 2 2 2".replace(/ /g,""),
"1 1 1 1 1 1 1 1 1 1 1 1 1 1 1 1 2 1 1 1 3 0 2 4 1 1 3 1 3 3 3 2 6 6 1 3 7 7 6 3".replace(/ /g,""),
"1 0 1 1 0 1 1 1 1 1 1 1 1 0 2 1 1 1 1 1 2 1 1 3 4 4 4 3 3 1 3 1 3 7 3 3 0 8 5 1".replace(/ /g,""),
"2 0 2 2 1 2 0 2 0 2 1 0 0 1 1 1 1 1 1 1 1 1 0 0 2 1 4 1 1 3 4 6 6 1 5 5 9 6 7 3".replace(/ /g,""),
"3 1 1 3 1 1 1 2 1 0 2 2 1 1 1 1 1 1 1 2 1 1 1 1 4 1 1 1 3 6 0 6 0 6 4 5 6 3 1".replace(/ /g,""),
"4 1 1 1 3 3 3 3 1 2 1 1 1 1 1 1 1 1 1 2 1 1 1 1 3 1 1 0 7 7 7 7 4 6 7 6 6 3 1".replace(/ /g,""),
"1 4 1 3 2 3 3 3 1 4 2 3 1 1 1 1 1 1 1 4 1 3 1 3 1 1 3 3 3 3 3 4 1 3 5 5 0".replace(/ /g,""),
"4 3 1 3 2 3 3 3 1 2 3 3 2 1 1 1 1 1 3 1 3 1 1 4 1 1 1 3 2 5 1 1 3 5 7 4 4 2".replace(/ /g,""),
"4 1 3 2 3 6 2 5 5 5 1 2 1 5 1 1 1 2 2 2 3 2 4 5 5 3 1 1 2 3 4 0 7 3 3 1".replace(/ /g,""),
"2 5 3 3 3 3 1 3 2 5 1 3 3 2 2 2 2 1 3 3 2 3 3 6 3 3 1 6 2 6 3 6 2 6 2 7 4 6 3 1".replace(/ /g,""),
"1 5 1 4 4 3 1 4 2 5 1 4 3 1 2 2 2 1 3 2 2 3 3 2 3 3 2 1 1 2 3 3 5 4 4 4 6 5 1".replace(/ /g,""),
"5 3 4 2 7 2 3 5 6 1 2 1 5 2 2 2 2 2 2 2 3 3 4 3 2 4 5 1 5 1 6 1 6 5 5 3 3 6 0 3".replace(/ /g,""),
"4 4 1 4 3 6 1 6 6 2 1 5 1 3 2 2 2 2 3 1 2 1 3 4 2 5 1 3 1 2 6 1 6 3 3 3 4 4 5 1".replace(/ /g,""),
"7 5 1 4 5 1 2 4 7 4 1 3 5 2 1 1 6 4 3 3 2 2 1 2 3 5 1 3 6 1 3 1 5 3 3 5 4 4 3 1".replace(/ /g,""),
"2 2 2 2 2 2 2 2 2 2 1 2 2 1 1 1 1 2 2 2 1 3 1 2 2 4 1 1 3 1 3 1 1 3 1 1 1 2 3 0".replace(/ /g,""),
"1 2 2 2 1 2 2 2 3 1 2 1 2 2 1 1 2 1 2 2 2 1 3 2 3 3 2 3 5 1 1 1 2 2 2 2 2 1 1 0".replace(/ /g,"")];

const rowGroups = [[topLeft, topMiddle, topRight], [middleLeft, middleMiddle, middleRight], [bottomLeft, bottomMiddle, bottomRight]];
const rowWidths = [43, 43, 40];
const rowStarts = [0, 43, 86];
const colNames = Array.from({length: imageCells}, (_, i) => String(i));

const saliencyData = [];
rowGroups.forEach((band, b) => {
  band.forEach((rows, t) => {
    rows.forEach((s, r) => {
      const y = rowStarts[b] + r;
      if (r >= rowWidths[b]) return;
      for (let k = 0; k < Math.min(s.length, rowWidths[t]); k++) {
        saliencyData.push([rowStarts[t] + k, y, saliencyLevels[parseInt(s[k], 16)]]);
      }
    });
  });
});

const chart = echarts.init(document.getElementById('c'), null, {renderer: 'canvas'});
chart.setOption({
  animation: false,
  backgroundColor: '#ffffff',
  title: [
    {text: titles[0], left: 672, top: 12, textAlign: 'center',
     textStyle: {fontFamily: 'DejaVu Sans', fontSize: 45, fontWeight: 'normal', color: '#000'}},
    {text: titles[1], left: 2279, top: 12, textAlign: 'center',
     textStyle: {fontFamily: 'DejaVu Sans', fontSize: 45, fontWeight: 'normal', color: '#000'}}
  ],
  grid: [
    {left: 14, top: 72, width: 1325, height: 1325, show: true, backgroundColor: '#000000', borderWidth: 0},
    {left: 1621, top: 73, width: 1324, height: 1324, show: true, backgroundColor: '#060000', borderWidth: 0}
  ],
  xAxis: [
    {type: 'value', gridIndex: 0, min: 0, max: imageCells, show: false},
    {type: 'category', gridIndex: 1, data: colNames, show: false}
  ],
  yAxis: [
    {type: 'value', gridIndex: 0, min: 0, max: imageCells, inverse: true, show: false},
    {type: 'category', gridIndex: 1, data: colNames, inverse: true, show: false}
  ],
  visualMap: {show: false, seriesIndex: 1, dimension: 2, min: 0, max: 1, inRange: {color: hotStops}},
  series: [
    {type: 'custom', xAxisIndex: 0, yAxisIndex: 0, data: originalRects, silent: true,
     renderItem: (params, api) => {
       const a = api.coord([api.value(0), api.value(2)]);
       const b = api.coord([api.value(1), api.value(3)]);
       return {type: 'rect', shape: {x: a[0], y: a[1], width: b[0] - a[0], height: b[1] - a[1]},
               style: {fill: originalRects[params.dataIndex][4]}};
     }},
    {type: 'heatmap', xAxisIndex: 1, yAxisIndex: 1, data: saliencyData, progressive: 0, silent: true,
     itemStyle: {borderWidth: 0}, emphasis: {disabled: true}}
  ]
});
</script></body></html>
